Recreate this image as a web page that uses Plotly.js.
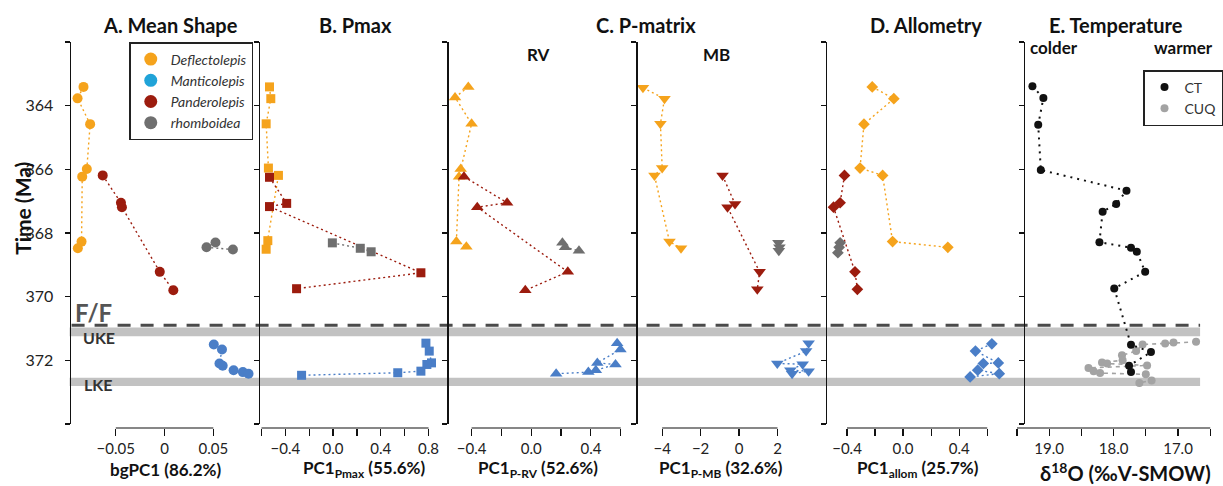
<!DOCTYPE html>
<html><head><meta charset="utf-8">
<script src="https://cdn.plot.ly/plotly-3.0.1.min.js"></script>
<style>html,body{margin:0;padding:0;background:#fff;}#chart{width:1223px;height:486px;}</style>
</head><body><div id="chart"></div>
<script>
// ---------- DATA (time in Ma, PC scores) ----------
// Panel A: Mean shape (bgPC1)
const A_defl_x = [-0.0831,-0.0892,-0.0763,-0.0797,-0.0844,-0.0851,-0.0889];
const A_defl_t = [363.41,363.77,364.58,365.99,366.23,368.27,368.48];
const A_pand_x = [-0.0634,-0.0447,-0.0437,-0.0049,0.0090];
const A_pand_t = [366.19,367.05,367.19,369.22,369.80];
const A_rhom_x = [0.0522,0.0430,0.0701];
const A_rhom_t = [368.30,368.45,368.52];
const A_mant_x = [0.0505,0.0589,0.0563,0.0596,0.0708,0.0803,0.0861];
const A_mant_t = [371.50,371.66,372.10,372.17,372.31,372.37,372.42];
// Panel B: Pmax
const B_defl_x = [-0.533,-0.522,-0.561,-0.542,-0.458,-0.547,-0.561];
const B_defl_t = [363.41,363.78,364.57,365.96,366.19,368.24,368.51];
const B_pand_x = [-0.533,-0.389,-0.533,0.736,-0.306];
const B_pand_t = [366.25,367.07,367.17,369.25,369.75];
const B_rhom_x = [-0.006,0.228,0.319];
const B_rhom_t = [368.31,368.48,368.59];
const B_mant_x = [0.778,0.806,0.825,0.786,0.736,0.542,-0.264];
const B_mant_t = [371.46,371.71,372.08,372.13,372.34,372.39,372.47];
// Panel C: P-matrix RV
const RV_defl_x = [-0.422,-0.511,-0.400,-0.473,-0.484,-0.502,-0.435];
const RV_defl_t = [363.41,363.74,364.57,365.99,366.23,368.27,368.43];
const RV_pand_x = [-0.451,-0.162,-0.362,0.245,-0.040];
const RV_pand_t = [366.23,367.05,367.19,369.22,369.80];
const RV_rhom_x = [0.209,0.227,0.320];
const RV_rhom_t = [368.31,368.45,368.56];
const RV_mant_x = [0.576,0.598,0.443,0.565,0.433,0.383,0.167];
const RV_mant_t = [371.46,371.66,372.08,372.13,372.31,372.37,372.42];
// Panel C: P-matrix MB
const MB_defl_x = [-5.0,-3.88,-4.09,-4.0,-4.40,-3.62,-3.02];
const MB_defl_t = [363.44,363.78,364.57,365.96,366.19,368.27,368.48];
const MB_pand_x = [-0.86,-0.21,-0.60,1.07,0.95];
const MB_pand_t = [366.19,367.09,367.19,369.22,369.77];
const MB_rhom_x = [2.05,2.10,2.07];
const MB_rhom_t = [368.31,368.45,368.56];
const MB_mant_x = [3.62,3.49,1.99,3.31,2.67,3.62,2.76];
const MB_mant_t = [371.46,371.71,372.10,372.12,372.31,372.34,372.42];
// Panel D: Allometry
const D_defl_x = [-0.220,-0.066,-0.279,-0.307,-0.146,-0.075,0.319];
const D_defl_t = [363.41,363.78,364.58,365.96,366.19,368.27,368.45];
const D_pand_x = [-0.418,-0.449,-0.496,-0.343,-0.326];
const D_pand_t = [366.19,367.05,367.19,369.22,369.77];
const D_rhom_x = [-0.449,-0.456,-0.465];
const D_rhom_t = [368.31,368.45,368.62];
const D_mant_x = [0.633,0.516,0.679,0.572,0.532,0.686,0.478];
const D_mant_t = [371.48,371.71,372.08,372.10,372.31,372.42,372.52];
// Panel E: Temperature (d18O)
const CT_x = [19.26,19.09,19.17,19.13,17.80,17.96,18.17,18.22,17.73,17.64,17.51,17.99,17.73,17.42,17.76,17.73];
const CT_t = [363.39,363.76,364.60,366.02,366.67,367.09,367.33,368.29,368.46,368.59,369.22,369.74,371.51,371.74,372.17,372.37];
const CUQ_x = [16.72,17.07,17.20,17.55,17.65,17.87,17.86,18.18,18.10,17.48,18.39,18.31,18.21,17.50,17.41,17.60];
const CUQ_t = [371.42,371.44,371.47,371.50,371.71,371.84,372.00,372.07,372.10,372.16,372.24,372.34,372.40,372.44,372.63,372.71];

// Tick values and labels (major = labelled, minor = unlabelled)
const timeTicks = [364,366,368,370,372];
const timeMinor = [362,374];
const A_ticks = [-0.05,0,0.05];     const A_labels = ['\u22120.05','0','0.05'];  const A_minor = [];
const B_ticks = [-0.4,0,0.4,0.8];   const B_labels = ['\u22120.4','0.0','0.4','0.8']; const B_minor = [-0.6,-0.2,0.2,0.6];
const RV_ticks = [-0.4,0,0.4];      const RV_labels = ['\u22120.4','0.0','0.4']; const RV_minor = [-0.2,0.2,0.6];
const MB_ticks = [-4,-2,0,2];       const MB_labels = ['\u22124','\u22122','0','2']; const MB_minor = [];
const D_ticks = [-0.4,0,0.4];       const D_labels = ['\u22120.4','0.0','0.4']; const D_minor = [-0.2,0.2,0.6];
const E_ticks = [19.0,18.0,17.0];   const E_labels = ['19.0','18.0','17.0']; const E_minor = [19.5,18.5,17.5,16.5];

const species = ['Deflectolepis','Manticolepis','Panderolepis','rhomboidea'];
const boundaries = {FF:370.90, UKE:[370.97,371.24], LKE:[372.55,372.81]};

// ---------- STYLE ----------
const W = 1223, H = 486;
const FONT = 'Lato, "Open Sans", sans-serif';
const COL = {defl:'#F5A31C', mant:'#4A7EC7', pand:'#9C1C0E', rhom:'#6F6F6F', mantLeg:'#20A3D8'};
const px = v => v / W;
const py = v => 1 - v / H;

const panels = [
  {k:'',  sym:'circle',        size:10, dom:[70,259],  range:[-0.09735,0.09531], yx:70,
   data:{defl:[A_defl_x,A_defl_t], pand:[A_pand_x,A_pand_t], rhom:[A_rhom_x,A_rhom_t], mant:[A_mant_x,A_mant_t]},
   ticks:A_ticks, labels:A_labels, minor:A_minor},
  {k:'2', sym:'square',        size:9,  dom:[260,449], range:[-0.625,0.95], yx:260,
   data:{defl:[B_defl_x,B_defl_t], pand:[B_pand_x,B_pand_t], rhom:[B_rhom_x,B_rhom_t], mant:[B_mant_x,B_mant_t]},
   ticks:B_ticks, labels:B_labels, minor:B_minor},
  {k:'3', sym:'triangle-up',   size:11, dom:[450,639], range:[-0.562,0.698], yx:450,
   data:{defl:[RV_defl_x,RV_defl_t], pand:[RV_pand_x,RV_pand_t], rhom:[RV_rhom_x,RV_rhom_t], mant:[RV_mant_x,RV_mant_t]},
   ticks:RV_ticks, labels:RV_labels, minor:RV_minor},
  {k:'4', sym:'triangle-down', size:11, dom:[640,830], range:[-5.344,4.485], yx:640,
   data:{defl:[MB_defl_x,MB_defl_t], pand:[MB_pand_x,MB_pand_t], rhom:[MB_rhom_x,MB_rhom_t], mant:[MB_mant_x,MB_mant_t]},
   ticks:MB_ticks, labels:MB_labels, minor:MB_minor},
  {k:'5', sym:'diamond',       size:9,  dom:[831,1020], range:[-0.548,0.792], yx:831,
   data:{defl:[D_defl_x,D_defl_t], pand:[D_pand_x,D_pand_t], rhom:[D_rhom_x,D_rhom_t], mant:[D_mant_x,D_mant_t]},
   ticks:D_ticks, labels:D_labels, minor:D_minor},
  {k:'6', dom:[1021,1222], range:[19.528,16.426], yx:1030, ticks:E_ticks, labels:E_labels, minor:E_minor}
];

const traces = [];
const layout = {
  width:W, height:H, margin:{l:0,r:0,t:0,b:0},
  paper_bgcolor:'#ffffff', plot_bgcolor:'rgba(0,0,0,0)',
  font:{family:FONT, color:'#222'},
  showlegend:true, shapes:[], annotations:[]
};
const yDom = [py(424), py(42)];

panels.forEach((p, i) => {
  const xa = 'xaxis' + p.k, yaName = 'yaxis' + p.k;
  const all = p.ticks.concat(p.minor);
  layout[xa] = {
    domain:[px(p.dom[0]), px(p.dom[1])], range:p.range, anchor:'free', position:py(428),
    showgrid:false, zeroline:false, showline:false,
    ticks:'outside', ticklen:7, tickwidth:1.2, tickcolor:'#111',
    tickmode:'array', tickvals:p.ticks, ticktext:p.labels,
    minor:{tickmode:'array', tickvals:p.minor, ticks:'outside', ticklen:7, tickwidth:1.2, tickcolor:'#111', showgrid:false},
    tickfont:{family:FONT, size:15, color:'#222'}, fixedrange:true
  };
  layout[yaName] = {
    domain:yDom, range:[374,362], anchor:'free', position:px(p.yx),
    showgrid:false, zeroline:false, showline:true, linecolor:'#111', linewidth:1.2,
    ticks:'outside', ticklen:5, tickwidth:1.2, tickcolor:'#111',
    tickmode:'array', tickvals:timeTicks,
    minor:{tickmode:'array', tickvals:timeMinor, ticks:'outside', ticklen:5, tickwidth:1.2, tickcolor:'#111', showgrid:false},
    showticklabels:(i === 0), ticklabelstandoff:8,
    tickfont:{family:FONT, size:16, color:'#222'}, fixedrange:true
  };
  // axis line spanning first to last tick only
  layout.shapes.push({type:'line', xref:'x'+p.k, yref:'paper',
    x0:Math.min(...all), x1:Math.max(...all), y0:py(428), y1:py(428),
    line:{color:'#111', width:1.2}});
  if (p.data) {
    ['defl','pand','rhom','mant'].forEach(s => {
      traces.push({
        type:'scatter', mode:'lines+markers', showlegend:false, cliponaxis:false,
        x:p.data[s][0], y:p.data[s][1], xaxis:'x'+p.k, yaxis:'y'+p.k,
        line:{color:COL[s], width:1.4, dash:'2px,3px'},
        marker:{symbol:p.sym, size:p.size, color:COL[s]},
        hoverinfo:'x+y'
      });
    });
  }
});

// Temperature series
traces.push({type:'scatter', mode:'lines+markers', showlegend:false, cliponaxis:false,
  x:CUQ_x, y:CUQ_t, xaxis:'x6', yaxis:'y6',
  line:{color:'#A3A3A3', width:1.6, dash:'4px,4px'},
  marker:{symbol:'circle', size:8, color:'#A3A3A3'}});
traces.push({type:'scatter', mode:'lines+markers', showlegend:false, cliponaxis:false,
  x:CT_x, y:CT_t, xaxis:'x6', yaxis:'y6',
  line:{color:'#111', width:2, dash:'2px,5px'},
  marker:{symbol:'circle', size:8, color:'#111'}});

// Legend entries (panel A)
const legCols = [COL.defl, COL.mantLeg, COL.pand, COL.rhom];
species.forEach((s, j) => {
  traces.push({type:'scatter', mode:'markers', name:s, x:[null], y:[null], xaxis:'x', yaxis:'y',
    marker:{symbol:'circle', size:13, color:legCols[j]}, legend:'legend', showlegend:true});
});
// Legend entries (panel E)
[['CT','#111'],['CUQ','#A3A3A3']].forEach(([n,c]) => {
  traces.push({type:'scatter', mode:'markers', name:n, x:[null], y:[null], xaxis:'x6', yaxis:'y6',
    marker:{symbol:'circle', size:8, color:c}, legend:'legend2', showlegend:true});
});

layout.legend = {x:px(130), y:py(42), xanchor:'left', yanchor:'top', bgcolor:'#fff',
  bordercolor:'#222', borderwidth:1.5, font:{family:FONT, size:14, color:'#333', style:'italic'},
  itemwidth:30, tracegroupgap:0};
layout.legend2 = {x:px(1150), y:py(70), xanchor:'left', yanchor:'top', bgcolor:'#fff',
  bordercolor:'#222', borderwidth:1.5, font:{family:FONT, size:14, color:'#333'},
  itemwidth:30, tracegroupgap:0};

// Extinction-event bands and F/F boundary
layout.shapes.push({type:'rect', xref:'paper', yref:'y', x0:px(70), x1:px(1207),
  y0:boundaries.UKE[0], y1:boundaries.UKE[1], fillcolor:'#C2C2C2', line:{width:0}, layer:'below'});
layout.shapes.push({type:'rect', xref:'paper', yref:'y', x0:px(70), x1:px(1207),
  y0:boundaries.LKE[0], y1:boundaries.LKE[1], fillcolor:'#C2C2C2', line:{width:0}, layer:'below'});
layout.shapes.push({type:'line', xref:'paper', yref:'y', x0:px(72), x1:px(1207),
  y0:boundaries.FF, y1:boundaries.FF, line:{color:'#4A4A4A', width:3, dash:'13px,10px'}, layer:'below'});

// Text
function ann(text, x, y, size, opts) {
  layout.annotations.push(Object.assign({text:text, xref:'paper', yref:'paper', x:px(x), y:py(y),
    xanchor:'center', yanchor:'middle', showarrow:false,
    font:{family:FONT, size:size, color:'#111'}}, opts || {}));
}
ann('<b>A. Mean Shape</b>', 171, 25, 20);
ann('<b>B. Pmax</b>', 358, 25, 20);
ann('<b>C. P-matrix</b>', 650, 25, 20);
ann('<b>D. Allometry</b>', 931, 25, 20);
ann('<b>E. Temperature</b>', 1122, 25, 20);
ann('<b>RV</b>', 542, 55, 17);
ann('<b>MB</b>', 721, 55, 17);
ann('<b>colder</b>', 1060, 47, 17);
ann('<b>warmer</b>', 1190, 47, 17);
ann('<b>Time (Ma)</b>', 22, 208, 21, {textangle:-90});
ann('<b>bgPC1 (86.2%)</b>', 166, 469, 17);
ann('<b>PC1<sub>Pmax</sub> (55.6%)</b>', 366, 469, 17);
ann('<b>PC1<sub>P-RV</sub> (52.6%)</b>', 541, 469, 17);
ann('<b>PC1<sub>P-MB</sub> (32.6%)</b>', 725, 469, 17);
ann('<b>PC1<sub>allom</sub> (25.7%)</b>', 923, 469, 17);
ann('<b>δ<sup>18</sup>O (‰V-SMOW)</b>', 1132, 472, 20);
ann('<b>F/F</b>', 94, 312, 24, {font:{family:FONT, size:24, color:'#555'}});
ann('<b>UKE</b>', 100, 337.5, 16, {font:{family:FONT, size:16, color:'#333'}});
ann('<b>LKE</b>', 99, 384, 16, {font:{family:FONT, size:16, color:'#333'}});

Plotly.newPlot('chart', traces, layout, {staticPlot:true, displayModeBar:false});
</script></body></html>
